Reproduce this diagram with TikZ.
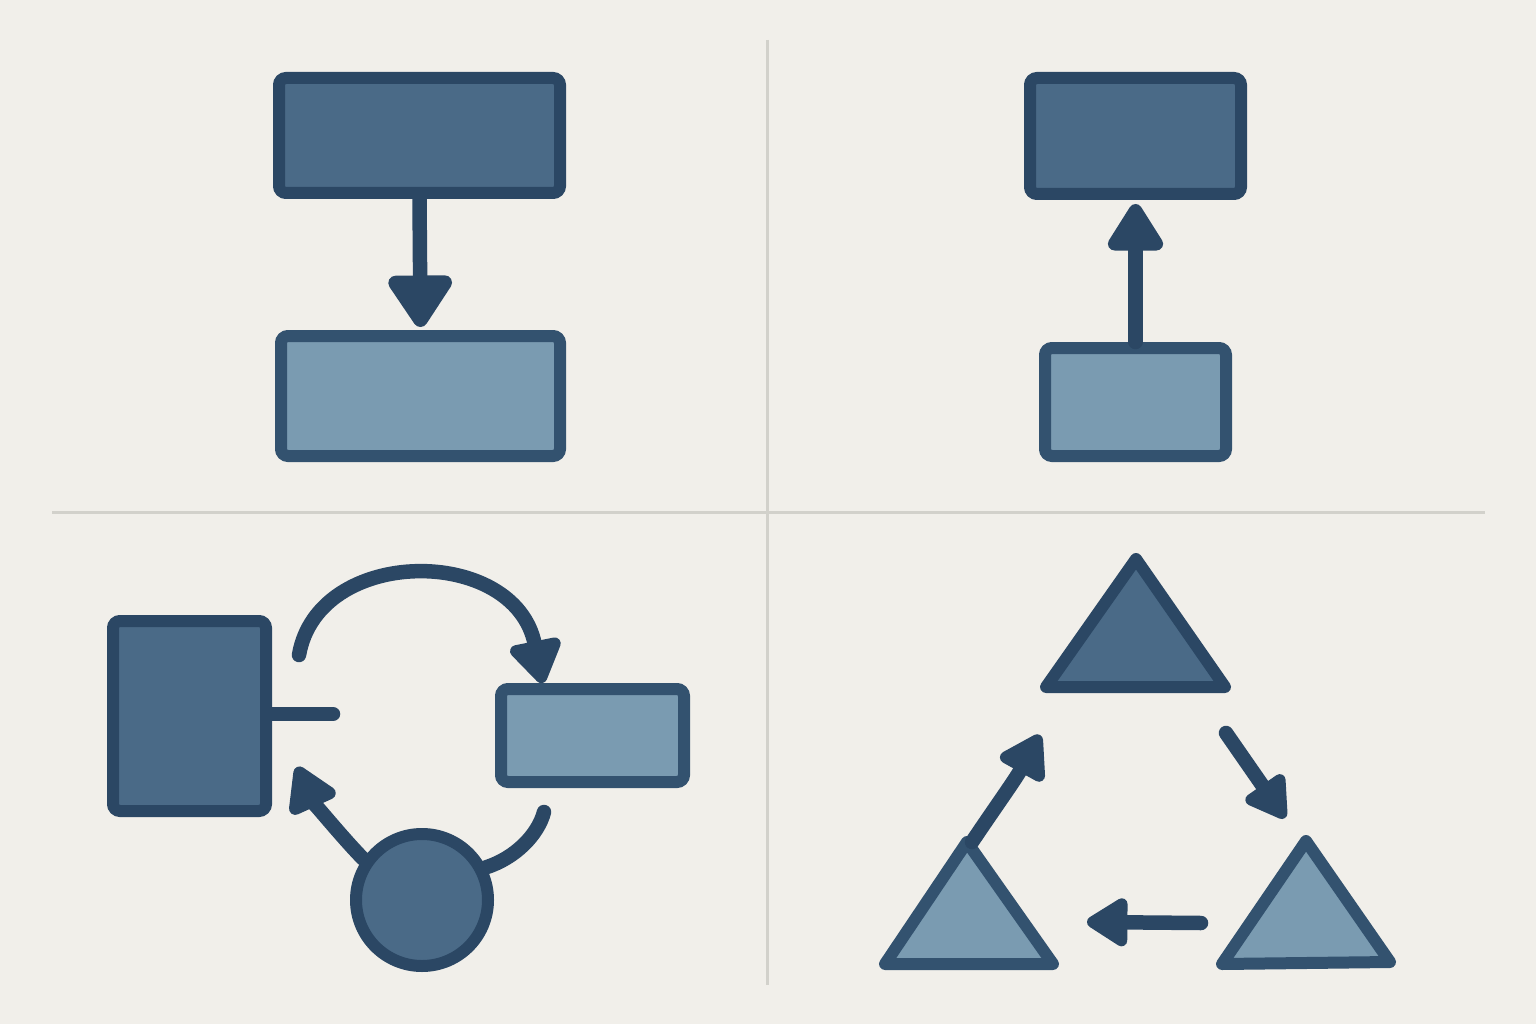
\documentclass[tikz,border=0pt]{standalone}
\usetikzlibrary{arrows.meta,calc}
\definecolor{bgc}{HTML}{F1EFEA}
\definecolor{divc}{HTML}{D2D1CB}
\definecolor{darkfill}{HTML}{4A6A87}
\definecolor{lightfill}{HTML}{7A9BB1}
\definecolor{strokec}{HTML}{2B4764}
\definecolor{lstroke}{HTML}{33526F}
\tikzset{
  darkbox/.style={draw=strokec,fill=darkfill,line width=12pt,rounded corners=7pt,inner sep=0pt},
  lightbox/.style={draw=lstroke,fill=lightfill,line width=12pt,rounded corners=7pt,inner sep=0pt},
  conn/.style={draw=strokec,line width=14.5pt,line cap=round},
  divider/.style={draw=divc,line width=3pt},
  tri/.style={line width=12pt,line join=round},
}
\begin{document}
\begin{tikzpicture}[x=1pt,y=-1pt]
\fill[bgc] (0,0) rectangle (1536,1024);
\useasboundingbox (0,0) rectangle (1536,1024);
% dividers
\coordinate (v1) at (767,40); \coordinate (v2) at (767,985);
\coordinate (h1) at (52,512); \coordinate (h2) at (1485,512);
\draw[divider] (v1) -- (v2);
\draw[divider] (h1) -- (h2);

% top-left
\node[darkbox,minimum width=281pt,minimum height=115pt] (TLa) at (419.5,135.5) {};
\node[lightbox,minimum width=279pt,minimum height=120pt] (TLb) at (420.5,396) {};
\draw[conn,-{Triangle[length=58pt,width=72pt,round]}] (TLa.south) -- ([yshift=3pt]TLb.north);

% top-right
\node[darkbox,minimum width=211pt,minimum height=116pt] (TRa) at (1135.5,136) {};
\node[lightbox,minimum width=181pt,minimum height=108pt] (TRb) at (1135.5,402) {};
\draw[conn,-{Triangle[length=53pt,width=62pt,round]}] (TRb.north) -- ([yshift=-4pt]TRa.south);

% bottom-left
\node[darkbox,minimum width=153pt,minimum height=190pt] (BLa) at (189.5,716) {};
\node[lightbox,minimum width=183pt,minimum height=93pt] (BLb) at (592.5,735.5) {};
\node[draw=strokec,fill=darkfill,line width=12pt,circle,minimum size=132pt,inner sep=0pt] (BLc) at (422,900) {};
\coordinate (s1) at (333,714);
\draw[conn] ([yshift=2pt]BLa.east) -- (s1);
\coordinate (a1) at (299,655);
\draw[conn,-{Triangle[length=48pt,width=58pt,round]}] (a1) .. controls (318,545) and (515,545) .. ([xshift=-50pt]BLb.north);
\coordinate (a2) at (297,767);
\draw[conn,-{Triangle[length=50pt,width=56pt,round]}] (BLc.145) .. controls (340,835) and (312,800) .. (a2);
\coordinate (b1) at (544,812);
\draw[conn] (b1) .. controls (538,835) and (515,858) .. (BLc.27);

% bottom-right triangles
\coordinate (T1a) at (1136,559); \coordinate (T1b) at (1046,687); \coordinate (T1c) at (1225,687);
\coordinate (T2a) at (967,842); \coordinate (T2b) at (885,964); \coordinate (T2c) at (1053,964);
\coordinate (T3a) at (1306,841); \coordinate (T3b) at (1222,964); \coordinate (T3c) at (1390,962);
\draw[tri,draw=strokec,fill=darkfill] (T1a) -- (T1b) -- (T1c) -- cycle;
\draw[tri,draw=lstroke,fill=lightfill] (T2a) -- (T2b) -- (T2c) -- cycle;
\draw[tri,draw=lstroke,fill=lightfill] (T3a) -- (T3b) -- (T3c) -- cycle;
\coordinate (c1) at (1040,735);
\draw[conn,-{Triangle[length=48pt,width=56pt,round]}] ([xshift=5pt]T2a) .. controls (992,812) and (1015,780) .. (c1);
\coordinate (c2) at (1226,733); \coordinate (c3) at (1285,818);
\draw[conn,-{Triangle[length=46pt,width=52pt,round]}] (c2) -- (c3);
\coordinate (c4) at (1201,923); \coordinate (c5) at (1087,922);
\draw[conn,-{Triangle[length=46pt,width=54pt,round]}] (c4) -- (c5);
\end{tikzpicture}
\end{document}
